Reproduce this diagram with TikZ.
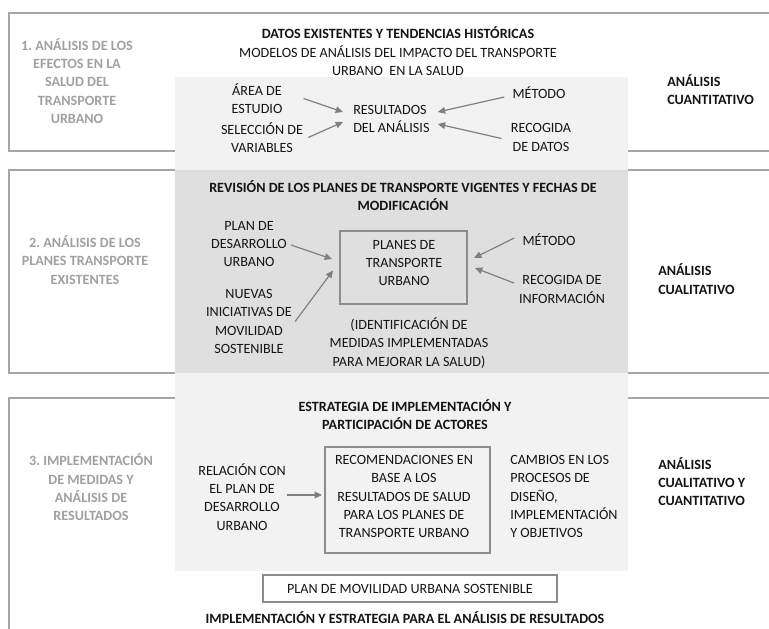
\documentclass[tikz,border=0pt]{standalone}
\usepackage{fontspec}
\setmainfont{Carlito}
\frenchspacing
\usetikzlibrary{arrows.meta}
\definecolor{boxline}{HTML}{A6A6A6}
\definecolor{lightbg}{HTML}{F2F2F2}
\definecolor{darkbg}{HTML}{DFDFDF}
\definecolor{innerline}{HTML}{8C8C8C}
\definecolor{arrowc}{HTML}{808080}
\definecolor{labgray}{HTML}{A0A0A0}
\definecolor{maintext}{HTML}{141414}
\begin{document}
\begin{tikzpicture}[x=0.75pt,y=-0.75pt,
  txt/.style={inner sep=0pt, align=center, text=maintext, font=\fontsize{10.6}{13.7}\selectfont},
  bt/.style={txt, font=\fontsize{10.6}{13.7}\selectfont\bfseries},
  glab/.style={txt, text=labgray, font=\fontsize{10.6}{13.7}\selectfont\bfseries},
  bl/.style={bt, align=left, anchor=west},
  outer/.style={draw=boxline, line width=1.5pt},
  ibox/.style={draw=innerline, line width=1.5pt, inner sep=0pt},
  arr/.style={draw=arrowc, line width=0.9pt, -{Triangle[length=5.5pt,width=5pt]}}
]
\useasboundingbox (0,0) rectangle (769,629);
% outer frames
\draw[outer] (772,13) -- (9,13) -- (9,151) -- (772,151);
\draw[outer] (772,170) -- (9,170) -- (9,373) -- (772,373);
\draw[outer] (772,398) -- (9,398) -- (9,635);
% shaded regions
\fill[lightbg] (175,77) rectangle (628,170);
\fill[darkbg] (175,170) rectangle (628,373);
\fill[lightbg] (175,373) rectangle (628,571);

% ---- block 1
\node[glab] (l1) at (77,81) {1. ANÁLISIS DE LOS\\EFECTOS EN LA\\SALUD DEL\\TRANSPORTE\\URBANO};
\node[bt] (t1) at (398,33) {DATOS EXISTENTES Y TENDENCIAS HISTÓRICAS};
\node[txt] (t1b) at (398,60.5) {MODELOS DE ANÁLISIS DEL IMPACTO DEL TRANSPORTE\\URBANO\ \ EN LA SALUD};
\node[txt] (area) at (257,98.5) {ÁREA DE\\ESTUDIO};
\node[txt] (sel) at (262,137.5) {SELECCIÓN DE\\VARIABLES};
\node[txt, align=left, anchor=west] (res) at (353,119) {RESULTADOS\\DEL ANÁLISIS};
\node[txt] (met1) at (539,93) {MÉTODO};
\node[txt] (rec1) at (541,137.5) {RECOGIDA\\DE DATOS};
\node[bl] (q1) at (667,89.5) {ANÁLISIS\\CUANTITATIVO};
\draw[arr] ([shift={(21,0)}]area.east) -- ([shift={(-10,-7)}]res.west);
\draw[arr] ([shift={(5,0)}]sel.east) -- ([shift={(-10,3)}]res.west);
\draw[arr] ([shift={(-8,4)}]met1.west) -- ([shift={(8,-7)}]res.east);
\draw[arr] ([shift={(-9,1)}]rec1.west) -- ([shift={(8,5)}]res.east);

% ---- block 2
\node[glab] (l2) at (85,260) {2. ANÁLISIS DE LOS\\PLANES TRANSPORTE\\EXISTENTES};
\node[bt] (t2) at (403,195.5) {REVISIÓN DE LOS PLANES DE TRANSPORTE VIGENTES Y FECHAS DE\\MODIFICACIÓN};
\node[txt] (pdu) at (249,244) {PLAN DE\\DESARROLLO\\URBANO};
\node[txt] (nue) at (249,321.5) {NUEVAS\\INICIATIVAS DE\\MOVILIDAD\\SOSTENIBLE};
\node[ibox, minimum width=95.25pt, minimum height=54.75pt] (ptbox) at (403.5,267.5) {};
\node[txt] (pt) at (404,263) {PLANES DE\\TRANSPORTE\\URBANO};
\node[txt] (met2) at (549,240) {MÉTODO};
\node[txt] (rec2) at (562,289.5) {RECOGIDA DE\\INFORMACIÓN};
\node[txt] (ident) at (409,343) {(IDENTIFICACIÓN DE\\MEDIDAS IMPLEMENTADAS\\PARA MEJORAR LA SALUD)};
\node[bl] (q2) at (658,279) {ANÁLISIS\\CUALITATIVO};
\draw[arr] ([shift={(4,1)}]pdu.east) -- ([shift={(-7,-8.5)}]ptbox.west);
\draw[arr] ([shift={(3,0)}]nue.east) -- ([shift={(-6,3)}]ptbox.west);
\draw[arr] ([shift={(-8,-2)}]met2.west) -- ([shift={(6,-9.5)}]ptbox.east);
\draw[arr] ([shift={(-5,-6.5)}]rec2.west) -- ([shift={(7,0.5)}]ptbox.east);

% ---- block 3
\node[glab] (l3) at (91,487.5) {3. IMPLEMENTACIÓN\\DE MEDIDAS Y\\ANÁLISIS DE\\RESULTADOS};
\node[bt] (t3) at (405,414.5) {ESTRATEGIA DE IMPLEMENTACIÓN Y\\PARTICIPACIÓN DE ACTORES};
\node[txt] (rel) at (242,497) {RELACIÓN CON\\EL PLAN DE\\DESARROLLO\\URBANO};
\node[ibox, minimum width=123.75pt, minimum height=79.5pt] (recbox) at (407.5,500) {};
\node[txt] (recom) at (404,496.5) {RECOMENDACIONES EN\\BASE A LOS\\RESULTADOS DE SALUD\\PARA LOS PLANES DE\\TRANSPORTE URBANO};
\node[txt, align=left, anchor=west] (camb) at (510,496.5) {CAMBIOS EN LOS\\PROCESOS DE\\DISEÑO,\\IMPLEMENTACIÓN\\Y OBJETIVOS};
\node[bl] (q3) at (658,481.5) {ANÁLISIS\\CUALITATIVO Y\\CUANTITATIVO};
\draw[arr] ([shift={(1,-2)}]rel.east) -- ([shift={(-2,-5)}]recbox.west);
\node[ibox, minimum width=220.5pt, minimum height=20.25pt, text=maintext, font=\fontsize{10.6}{13.7}\selectfont] (pmus) at (410,588.5) {PLAN DE MOVILIDAD URBANA SOSTENIBLE};
\node[bt] (t4) at (405,618) {IMPLEMENTACIÓN Y ESTRATEGIA PARA EL ANÁLISIS DE RESULTADOS};
\end{tikzpicture}
\end{document}
